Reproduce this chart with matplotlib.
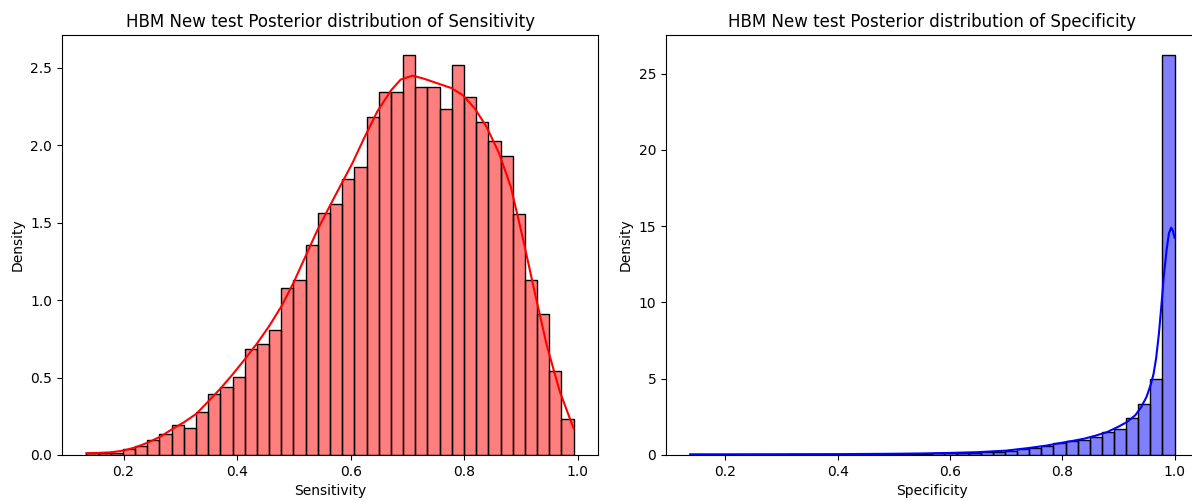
import numpy as np
import matplotlib
matplotlib.use("Agg")
import matplotlib.pyplot as plt

# histogram densities (40 bins each)
sens_range = (0.1345, 0.9925)
sens_density = [0.011, 0.011, 0.015, 0.037, 0.058, 0.097, 0.135, 0.194, 0.172, 0.275,
                0.391, 0.437, 0.505, 0.682, 0.716, 0.806, 1.077, 1.129, 1.359, 1.563,
                1.624, 1.781, 1.860, 2.183, 2.344, 2.344, 2.583, 2.376, 2.376, 2.232,
                2.518, 2.312, 2.148, 2.026, 1.931, 1.557, 1.131, 0.912, 0.542, 0.230]

spec_range = (0.1375, 1.0)
spec_density = [0.005, 0.003, 0.005, 0.01, 0.01, 0.015, 0.02, 0.02, 0.03, 0.03,
                0.035, 0.04, 0.045, 0.05, 0.05, 0.06, 0.065, 0.07, 0.08, 0.09,
                0.10, 0.11, 0.13, 0.15, 0.17, 0.22, 0.28, 0.39, 0.48, 0.59,
                0.76, 0.92, 0.98, 1.18, 1.48, 1.72, 2.40, 3.33, 5.00, 26.22]

# kde curves
sens_kde_x = [0.1345, 0.157, 0.178, 0.200, 0.222, 0.243, 0.265, 0.285, 0.306, 0.328,
              0.349, 0.371, 0.392, 0.414, 0.435, 0.456, 0.478, 0.499, 0.520, 0.541,
              0.562, 0.582, 0.603, 0.624, 0.647, 0.671, 0.688, 0.709, 0.729, 0.753,
              0.777, 0.797, 0.818, 0.839, 0.861, 0.882, 0.903, 0.924, 0.945, 0.968, 0.9925]
sens_kde_y = [0.011, 0.013, 0.017, 0.028, 0.05, 0.08, 0.118, 0.165, 0.21, 0.265,
              0.345, 0.43, 0.52, 0.62, 0.72, 0.83, 0.96, 1.11, 1.28, 1.45,
              1.60, 1.74, 1.885, 2.05, 2.22, 2.355, 2.425, 2.45, 2.43, 2.40,
              2.37, 2.325, 2.24, 2.12, 1.95, 1.73, 1.40, 1.05, 0.71, 0.41, 0.17]

spec_kde_x = [0.1375, 0.2, 0.3, 0.4, 0.5, 0.55, 0.6, 0.65, 0.7, 0.74, 0.77, 0.8,
              0.82, 0.84, 0.86, 0.88, 0.90, 0.915, 0.93, 0.94, 0.95, 0.9575, 0.9625,
              0.967, 0.972, 0.977, 0.981, 0.986, 0.990, 0.994, 0.997, 1.0]
spec_kde_y = [0.04, 0.04, 0.045, 0.05, 0.075, 0.095, 0.13, 0.18, 0.28, 0.45, 0.6, 0.8,
              0.93, 1.07, 1.27, 1.5, 1.85, 2.15, 2.6, 3.1, 3.8, 4.6, 5.3,
              6.3, 7.9, 10.0, 11.8, 13.5, 14.55, 14.9, 14.7, 14.25]

fig = plt.figure(figsize=(11.92, 5.01), dpi=100)
# the right panel runs slightly past the picture's edge, as in the original
ax1 = fig.add_axes([0.052, 0.092, 0.4497, 0.838])
ax2 = fig.add_axes([0.5587, 0.092, 0.4470, 0.838])

panels = [
    (ax1, sens_range, sens_density, sens_kde_x, sens_kde_y, "red", "Sensitivity"),
    (ax2, spec_range, spec_density, spec_kde_x, spec_kde_y, "blue", "Specificity"),
]

for ax, rng, dens, kx, ky, col, name in panels:
    edges = np.linspace(rng[0], rng[1], len(dens) + 1)
    ax.bar(edges[:-1], dens, width=np.diff(edges), align="edge",
           facecolor=matplotlib.colors.to_rgba(col, 0.5), edgecolor="black", linewidth=1)
    ax.plot(kx, ky, color=col, linewidth=1.5)
    ax.set_title("HBM New test Posterior distribution of " + name)
    ax.set_xlabel(name)
    ax.set_ylabel("Density")

plt.savefig("out.png")
